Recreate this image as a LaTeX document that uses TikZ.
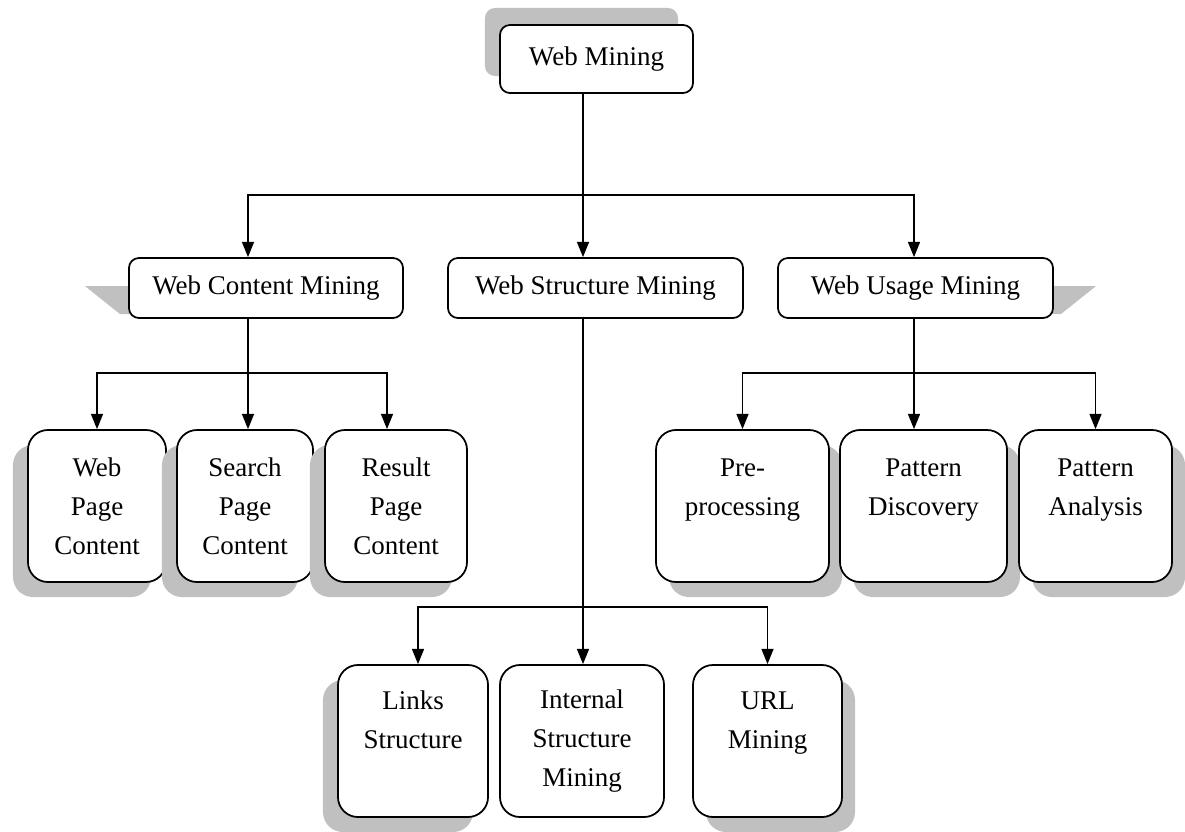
\documentclass[tikz,border=0pt]{standalone}
\usepackage{fontspec}
\setmainfont{Liberation Serif}
\usetikzlibrary{arrows.meta,calc,shadows,backgrounds}
\definecolor{shadowgray}{HTML}{C0C0C0}
\tikzset{
  box/.style={draw, line width=1.25pt, fill=white, rounded corners=0.25cm, inner sep=0pt,
    align=center, font=\fontsize{19.2}{27.7}\selectfont},
  leaf/.style={box, rounded corners=0.5cm, minimum height=3.8cm},
  conn/.style={line width=1pt},
  arr/.style={conn, -{Triangle[length=0.38cm, width=0.3cm]}},
  shadowleft/.style={drop shadow={shadow xshift=-0.375cm, shadow yshift=-0.375cm,
    fill=shadowgray, opacity=1}},
  shadowright/.style={drop shadow={shadow xshift=0.325cm, shadow yshift=-0.375cm,
    fill=shadowgray, opacity=1}},
}
\begin{document}
\begin{tikzpicture}[x=0.025cm, y=-0.025cm]
\useasboundingbox (0,0) rectangle (1185,831);

% top
\node[box, minimum width=4.825cm, minimum height=1.7cm,
  drop shadow={shadow xshift=-0.375cm, shadow yshift=0.425cm, fill=shadowgray, opacity=1}]
  (wm) at (596.5,59) {Web Mining};

% second level
\node[box, minimum width=6.85cm, minimum height=1.5cm] (wcm) at (266,288) {Web Content Mining};
\node[box, minimum width=7.375cm, minimum height=1.5cm] (wsm) at (595.5,288) {Web Structure Mining};
\node[box, minimum width=6.875cm, minimum height=1.5cm] (wum) at (915.5,288) {Web Usage Mining};
\begin{scope}[on background layer]
  \fill[shadowgray] ($(wcm.north west)+(-43,29)$) -- ($(wcm.north west)+(2,29)$)
    -- ($(wcm.north west)+(2,57)$) -- ($(wcm.north west)+(-8,57)$) -- cycle;
  \fill[shadowgray] ($(wum.north east)+(-2,29)$) -- ($(wum.north east)+(42,29)$)
    -- ($(wum.north east)+(7,57)$) -- ($(wum.north east)+(-2,57)$) -- cycle;
\end{scope}

% content mining
\node[leaf, shadowleft, minimum width=3.45cm] (wpc) at (97,506) {Web\\Page\\Content};
\node[leaf, shadowleft, minimum width=3.4cm] (spc) at (245,506) {Search\\Page\\Content};
\node[leaf, shadowleft, minimum width=3.55cm] (rpc) at (396,506) {Result\\Page\\Content};

% usage mining
\node[leaf, shadowright, minimum width=4.325cm] (pre) at (742.5,506) {Pre-\\processing\\[-9pt]\strut};
\node[leaf, shadowright, minimum width=4.175cm] (pdi) at (923.5,506) {Pattern\\Discovery\\[-9pt]\strut};
\node[leaf, shadowright, minimum width=3.825cm] (pan) at (1095.5,506) {Pattern\\Analysis\\[-9pt]\strut};

% structure mining
\node[leaf, shadowleft, minimum width=3.75cm] (lks) at (413,741) {Links\\Structure\\[-6pt]\strut};
\node[leaf, minimum width=4.1cm] (ism) at (582,741) {Internal\\Structure\\Mining};
\node[leaf, shadowright, minimum width=3.725cm] (url) at (767.5,741) {URL\\Mining\\[-6pt]\strut};

% junctions
\coordinate (j1) at (583,195);
\coordinate (j2) at (248,373);
\coordinate (j3) at (914,373);
\coordinate (j4) at (583,607);

\draw[conn] (wm.south -| j1) -- (j1);
\draw[arr] (j1) -| (wcm.north -| j2);
\draw[arr] (j1) -- (wsm.north -| j1);
\draw[arr] (j1) -| (wum.north -| j3);

\draw[conn] (wcm.south -| j2) -- (j2);
\draw[arr] (j2) -| (wpc.north);
\draw[arr] (j2) -- (spc.north -| j2);
\draw[arr] (j2) -| ($(rpc.north)+(-9,0)$);

\draw[conn] (wum.south -| j3) -- (j3);
\draw[arr] (j3) -| (pre.north);
\draw[arr] (j3) -- (pdi.north -| j3);
\draw[arr] (j3) -| (pan.north);

\draw[arr] (wsm.south -| j4) -- (ism.north -| j4);
\draw[arr] (j4) -| ($(lks.north)+(5,0)$);
\draw[arr] (j4) -| (url.north);
\end{tikzpicture}
\end{document}
